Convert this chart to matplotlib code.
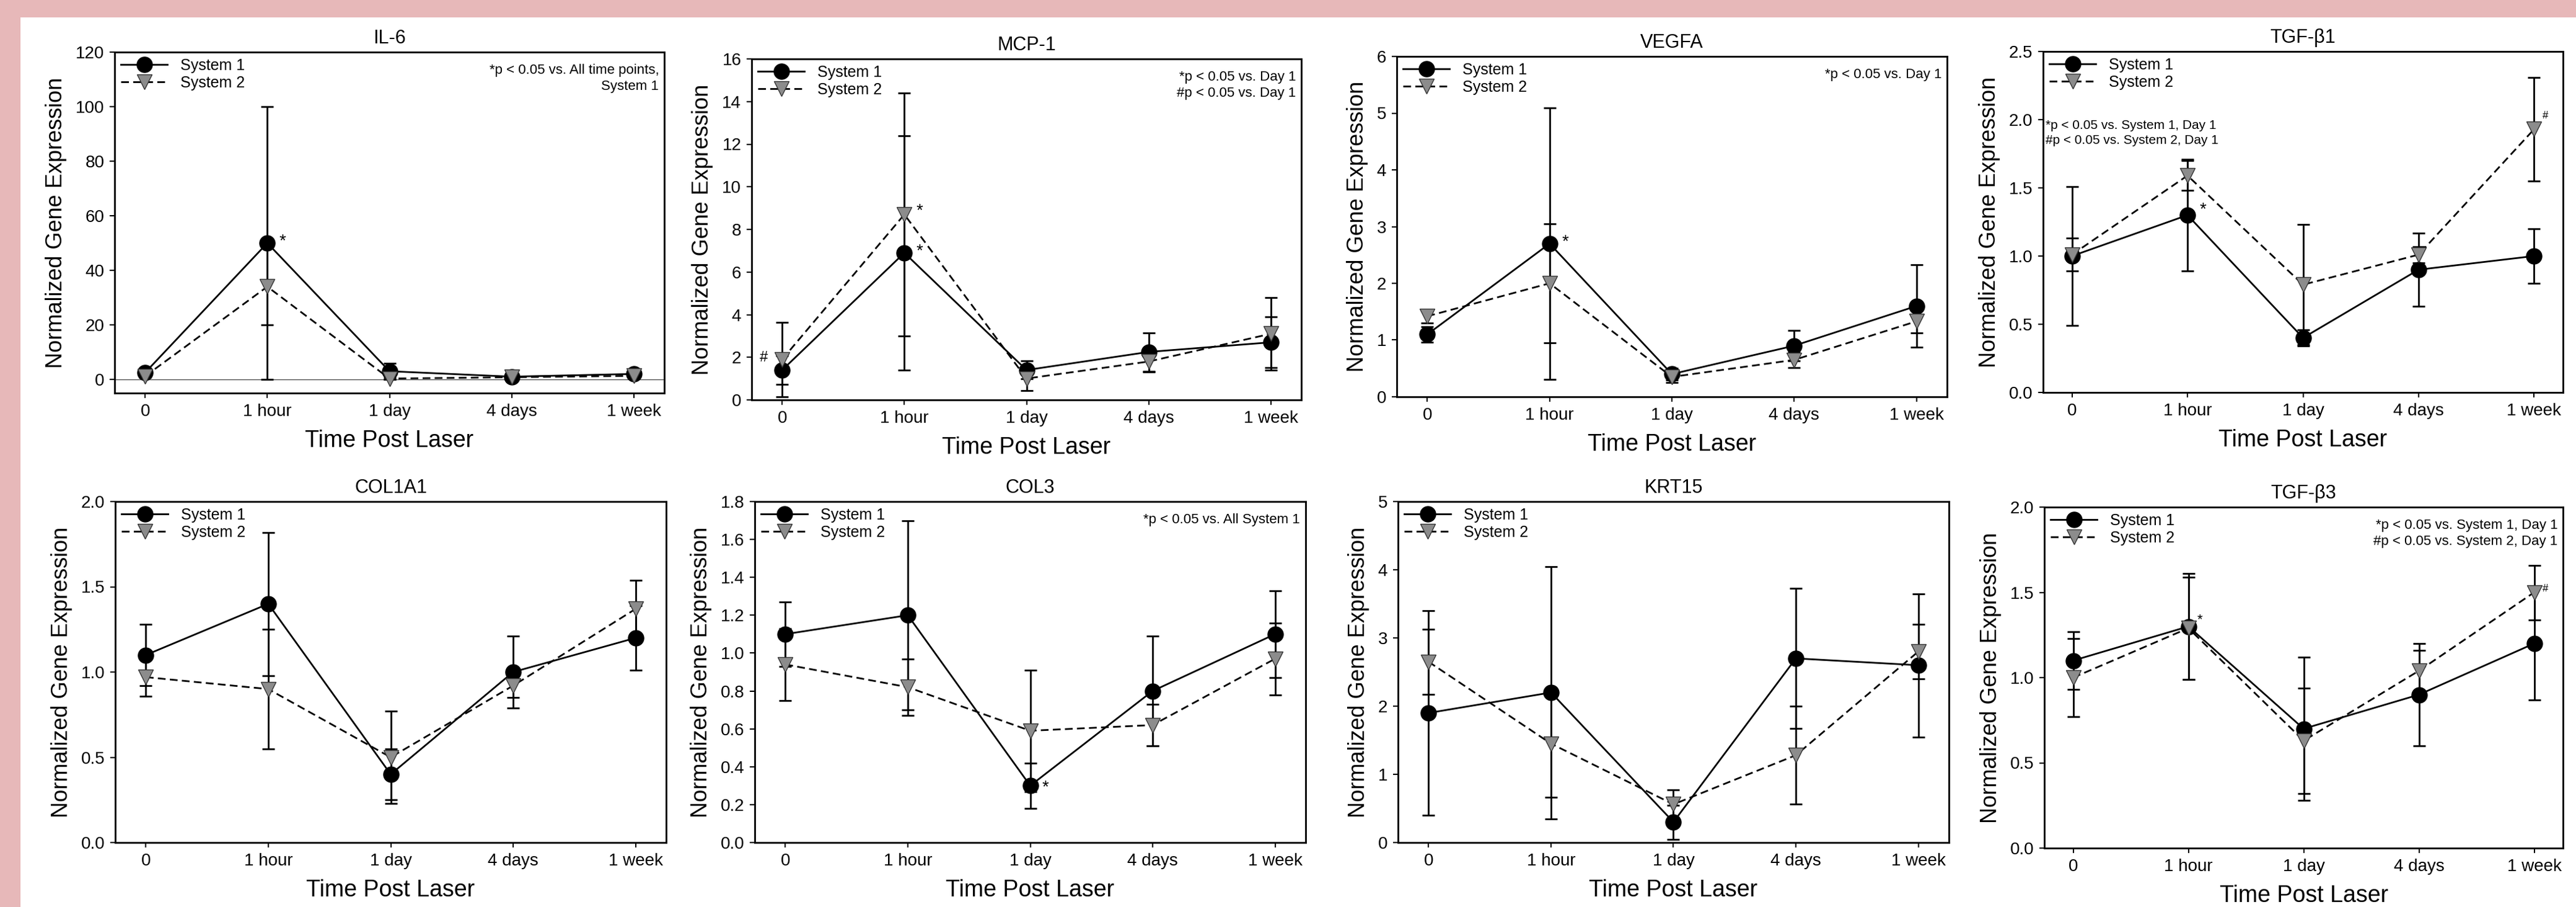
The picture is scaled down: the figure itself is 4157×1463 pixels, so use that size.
import numpy as np
import matplotlib
matplotlib.use("Agg")
import matplotlib.pyplot as plt
from matplotlib.patches import Rectangle
from matplotlib.ticker import FormatStrFormatter

plt.rcParams["font.family"] = ["Liberation Sans", "DejaVu Sans"]

# time points after laser
time_labels = ["0", "1 hour", "1 day", "4 days", "1 week"]

# values (mean, error bar half-length)
il6_sys1 = [2.5, 50, 3, 1, 2]
il6_sys1_err = [1, 50, 3, 0.5, 1]
il6_sys2 = [1.2, 34, 0.3, 0.8, 1.3]
il6_sys2_err = [0.5, 14, 0.3, 0.3, 0.5]

mcp1_sys1 = [1.4, 6.9, 1.4, 2.25, 2.7]
mcp1_sys1_err = [0.66, 5.5, 0.42, 0.9, 1.2]
mcp1_sys2 = [1.9, 8.7, 1.0, 1.8, 3.1]
mcp1_sys2_err = [1.75, 5.7, 0.55, 0.5, 1.7]

vegfa_sys1 = [1.1, 2.7, 0.4, 0.9, 1.6]
vegfa_sys1_err = [0.14, 2.39, 0.1, 0.27, 0.73]
vegfa_sys2 = [1.42, 2.0, 0.35, 0.65, 1.33]
vegfa_sys2_err = [0.12, 1.05, 0.1, 0.14, 0.2]

tgfb1_sys1 = [1.0, 1.3, 0.4, 0.9, 1.0]
tgfb1_sys1_err = [0.51, 0.41, 0.06, 0.27, 0.2]
tgfb1_sys2 = [1.01, 1.59, 0.79, 1.01, 1.93]
tgfb1_sys2_err = [0.12, 0.11, 0.44, 0.06, 0.38]

col1a1_sys1 = [1.1, 1.4, 0.4, 1.0, 1.2]
col1a1_sys1_err = [0.18, 0.42, 0.15, 0.21, 0.19]
col1a1_sys2 = [0.97, 0.9, 0.5, 0.92, 1.37]
col1a1_sys2_err = [0.11, 0.35, 0.27, 0.07, 0.17]

col3_sys1 = [1.1, 1.2, 0.3, 0.8, 1.1]
col3_sys1_err = [0.17, 0.5, 0.12, 0.29, 0.23]
col3_sys2 = [0.94, 0.82, 0.59, 0.62, 0.97]
col3_sys2_err = [0.19, 0.15, 0.32, 0.11, 0.19]

krt15_sys1 = [1.9, 2.2, 0.3, 2.7, 2.6]
krt15_sys1_err = [1.5, 1.85, 0.25, 1.03, 1.05]
krt15_sys2 = [2.65, 1.45, 0.56, 1.28, 2.8]
krt15_sys2_err = [0.48, 0.79, 0.21, 0.72, 0.4]

tgfb3_sys1 = [1.1, 1.3, 0.7, 0.9, 1.2]
tgfb3_sys1_err = [0.17, 0.31, 0.42, 0.3, 0.33]
tgfb3_sys2 = [1.0, 1.29, 0.63, 1.04, 1.5]
tgfb3_sys2_err = [0.23, 0.3, 0.31, 0.12, 0.16]

W, H = 4157, 1463
x = np.arange(len(time_labels))

fig = plt.figure(figsize=(W / 100, H / 100), dpi=100, facecolor="#e7b8b9")
fig.patches.append(Rectangle((33 / W, 0), 1 - 33 / W, 1 - 28 / H,
                             transform=fig.transFigure, facecolor="white",
                             edgecolor="none", zorder=-1))


def box(left, right, top, bottom):
    # pixel box -> figure fraction
    return [left / W, 1 - bottom / H, (right - left) / W, (bottom - top) / H]


def draw_panel(rect, title, s1, e1, s2, e2, ylim, yticks, fmt):
    ax = fig.add_axes(rect)
    ax.errorbar(x, s1, yerr=e1, fmt="none", ecolor="black", elinewidth=2,
                capsize=7, capthick=2, zorder=2)
    ax.errorbar(x, s2, yerr=e2, fmt="none", ecolor="black", elinewidth=2,
                capsize=7, capthick=2, zorder=2)
    ax.plot(x, s1, color="black", lw=2, marker="o", ms=18, mfc="black",
            mec="black", label="System 1", zorder=3)
    ax.plot(x, s2, color="black", lw=2, ls=(0, (4.5, 2.5)), marker="v", ms=17,
            mfc="#8c8c8c", mec="#333333", mew=1, label="System 2", zorder=4)
    ax.set_xlim(-0.25, 4.25)
    ax.set_ylim(*ylim)
    ax.set_yticks(yticks)
    ax.yaxis.set_major_formatter(FormatStrFormatter(fmt))
    ax.set_xticks(x)
    ax.set_xticklabels(time_labels)
    ax.tick_params(direction="out", length=6, width=1.5, labelsize=20,
                   top=False, right=False, pad=6)
    for sp in ax.spines.values():
        sp.set_linewidth(2)
    ax.set_title(title, fontsize=22, pad=10)
    ax.set_xlabel("Time Post Laser", fontsize=27, labelpad=12)
    ax.set_ylabel("Normalized Gene Expression", fontsize=26, labelpad=10)
    ax.legend(loc="upper left", frameon=False, fontsize=18, handlelength=3.0,
              handletextpad=0.85, labelspacing=0.15, borderpad=0.2,
              borderaxespad=0.2, numpoints=1)
    return ax


def star(ax, xi, yi, s, dx=14, dy=2, size=20):
    ax.annotate(s, (xi, yi), xytext=(dx, dy), textcoords="offset points",
                ha="left", va="center", fontsize=size)


def note(ax, s, right=True, y=0.965):
    if right:
        ax.text(0.99, y, s, transform=ax.transAxes, ha="right", va="top",
                fontsize=16, multialignment="right", linespacing=1.3)
    else:
        ax.text(0.005, y, s, transform=ax.transAxes, ha="left", va="top",
                fontsize=15, linespacing=1.3)


# row 1
ax = draw_panel(box(185, 1072, 84, 634), "IL-6", il6_sys1, il6_sys1_err,
                il6_sys2, il6_sys2_err, (-5, 120), np.arange(0, 121, 20), "%d")
ax.axhline(0, color="0.3", lw=1, zorder=1)
star(ax, 1, il6_sys1[1], "*")
note(ax, "*p < 0.05 vs. All time points,\nSystem 1")

ax = draw_panel(box(1213, 2100, 95, 645), "MCP-1", mcp1_sys1, mcp1_sys1_err,
                mcp1_sys2, mcp1_sys2_err, (0, 16), np.arange(0, 17, 2), "%d")
star(ax, 1, mcp1_sys1[1], "*")
star(ax, 1, mcp1_sys2[1], "*", dy=4)
star(ax, 0, mcp1_sys2[0], "#", dx=-26, dy=2, size=17)
note(ax, "*p < 0.05 vs. Day 1\n#p < 0.05 vs. Day 1")

ax = draw_panel(box(2254, 3142, 91, 640), "VEGFA", vegfa_sys1, vegfa_sys1_err,
                vegfa_sys2, vegfa_sys2_err, (0, 6), np.arange(0, 7, 1), "%d")
star(ax, 1, vegfa_sys1[1], "*")
note(ax, "*p < 0.05 vs. Day 1")

ax = draw_panel(box(3297, 4136, 83, 633), "TGF-\u03b21", tgfb1_sys1, tgfb1_sys1_err,
                tgfb1_sys2, tgfb1_sys2_err, (0, 2.5), np.arange(0, 2.51, 0.5), "%.1f")
star(ax, 1, tgfb1_sys1[1], "*", dy=6)
star(ax, 4, tgfb1_sys2[4], "#", dx=10, dy=16, size=12)
note(ax, "*p < 0.05 vs. System 1, Day 1\n#p < 0.05 vs. System 2, Day 1",
     right=False, y=0.8)

# row 2
ax = draw_panel(box(186, 1075, 809, 1359), "COL1A1", col1a1_sys1, col1a1_sys1_err,
                col1a1_sys2, col1a1_sys2_err, (0, 2.0), np.arange(0, 2.01, 0.5), "%.1f")

ax = draw_panel(box(1218, 2107, 809, 1359), "COL3", col3_sys1, col3_sys1_err,
                col3_sys2, col3_sys2_err, (0, 1.8), np.arange(0, 1.81, 0.2), "%.1f")
star(ax, 2, col3_sys1[2], "*", dy=-2)
note(ax, "*p < 0.05 vs. All System 1")

ax = draw_panel(box(2256, 3145, 809, 1359), "KRT15", krt15_sys1, krt15_sys1_err,
                krt15_sys2, krt15_sys2_err, (0, 5), np.arange(0, 6, 1), "%d")

ax = draw_panel(box(3299, 4136, 818, 1368), "TGF-\u03b23", tgfb3_sys1, tgfb3_sys1_err,
                tgfb3_sys2, tgfb3_sys2_err, (0, 2.0), np.arange(0, 2.01, 0.5), "%.1f")
star(ax, 1, tgfb3_sys1[1], "*", dx=10, dy=8, size=16)
star(ax, 4, tgfb3_sys2[4], "#", dx=10, dy=4, size=12)
note(ax, "*p < 0.05 vs. System 1, Day 1\n#p < 0.05 vs. System 2, Day 1")

fig.savefig("out.png", dpi=100, facecolor=fig.get_facecolor())
